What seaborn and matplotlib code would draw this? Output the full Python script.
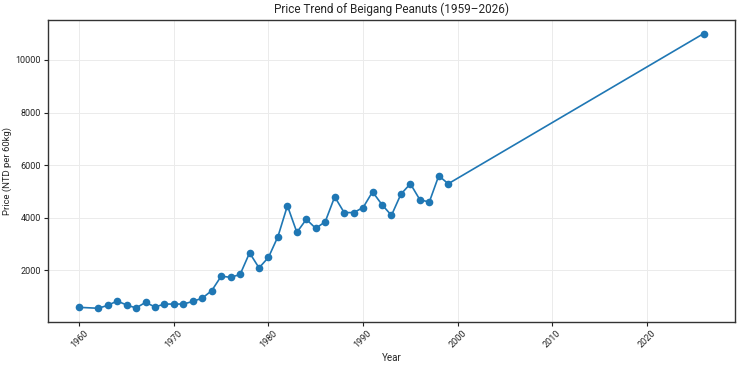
import matplotlib
matplotlib.use("Agg")
import matplotlib.pyplot as plt
import seaborn as sns
import pandas as pd

# data
years = [1960, 1962, 1963, 1964, 1965, 1966, 1967, 1968, 1969, 1970,
         1971, 1972, 1973, 1974, 1975, 1976, 1977, 1978, 1979, 1980,
         1981, 1982, 1983, 1984, 1985, 1986, 1987, 1988, 1989, 1990,
         1991, 1992, 1993, 1994, 1995, 1996, 1997, 1998, 1999, 2026]
prices = [600, 565, 675, 840, 690, 575, 790, 615, 725, 725,
          725, 825, 950, 1235, 1785, 1740, 1850, 2670, 2100, 2500,
          3290, 4460, 3450, 3945, 3600, 3855, 4800, 4200, 4200, 4390,
          4990, 4500, 4095, 4900, 5295, 4690, 4600, 5600, 5295, 11000]

df = pd.DataFrame({"Year": years, "Price": prices})

sns.set_theme(style="whitegrid")
plt.rcParams["font.family"] = ["Roboto", "DejaVu Sans"]

fig, ax = plt.subplots(figsize=(7.4, 3.68), dpi=100)
fig.subplots_adjust(left=0.065, right=0.993, top=0.946, bottom=0.125)

sns.lineplot(data=df, x="Year", y="Price", marker="o", color="#1f77b4",
             markersize=5.5, markeredgewidth=0, linewidth=1.2, ax=ax)

ax.set_title("Price Trend of Beigang Peanuts (1959\u20132026)", fontsize=8.5, pad=5)
ax.set_xlabel("Year", fontsize=7, labelpad=2)
ax.set_ylabel("Price (NTD per 60kg)", fontsize=6.8)
ax.yaxis.set_label_coords(-0.052, 0.5)
ax.tick_params(axis="both", labelsize=6.5, length=3, width=0.8, pad=2,
               bottom=True, left=True, colors="#222222")
plt.setp(ax.get_xticklabels(), rotation=45)
ax.grid(True, color="#ebebeb", linewidth=0.7)
for sp in ax.spines.values():
    sp.set_color("#333333")
    sp.set_linewidth(1.0)

fig.savefig("out.png", dpi=100)
